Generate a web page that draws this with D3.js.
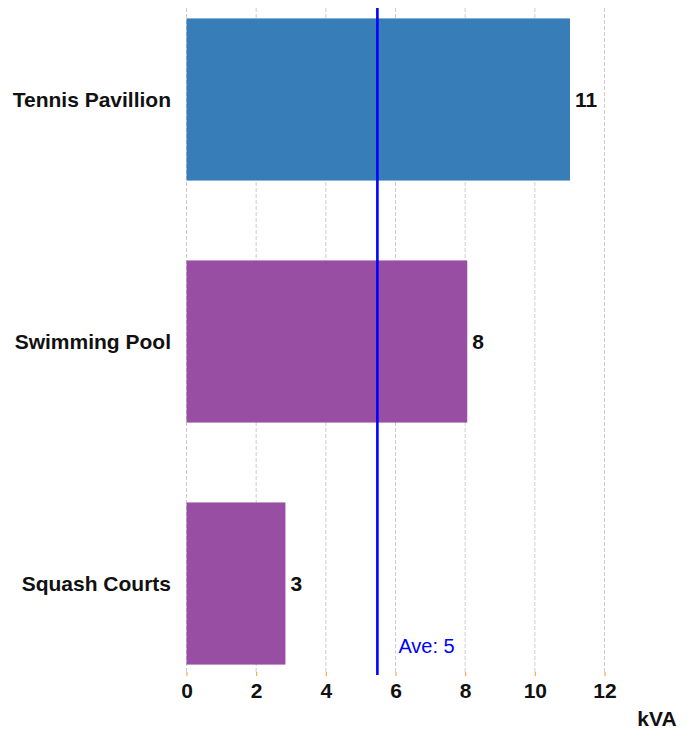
<!DOCTYPE html>
<html>
<head>
<meta charset="utf-8">
<script src="https://cdn.jsdelivr.net/npm/d3@7"></script>
<style>
  body { margin: 0; background: #fff; }
  svg text { font-family: Arial, "Liberation Sans", sans-serif; }
</style>
</head>
<body>
<svg width="693" height="730"></svg>
<script>
// data
var categories = ["Tennis Pavillion", "Swimming Pool", "Squash Courts"];
var values = [11.01, 8.06, 2.84];
var labels = ["11", "8", "3"];
var colors = ["#377eb8", "#984ea3", "#984ea3"];
var average = 5.48;
var aveLabel = "Ave: 5";
var xTicks = [0, 2, 4, 6, 8, 10, 12];
var unit = "kVA";

var rows = categories.map(function(c, i) {
  return {name: c, value: values[i], label: labels[i], color: colors[i]};
});

var svg = d3.select("svg");

var x = d3.scaleLinear().domain([0, 12]).range([186.5, 604.5]);
var y = d3.scaleBand().domain(categories).range([8, 675])
  .paddingInner(0.33).paddingOuter(0.043);

// grid
svg.append("g").selectAll("line.grid")
  .data(xTicks)
  .enter()
  .append("line").attr("class", "grid")
  .attr("x1", function(d){ return x(d); })
  .attr("x2", function(d){ return x(d); })
  .attr("y1", 8)
  .attr("y2", 672)
  .attr("stroke", "#cccccc")
  .attr("stroke-width", 1)
  .attr("stroke-dasharray", "4,2");

// bars
svg.append("g").selectAll("rect")
  .data(rows)
  .enter()
  .append("rect")
  .attr("x", x(0))
  .attr("y", function(d){ return y(d.name); })
  .attr("width", function(d){ return x(d.value) - x(0); })
  .attr("height", y.bandwidth())
  .attr("fill", function(d){ return d.color; });

// value labels
svg.append("g").selectAll("text")
  .data(rows)
  .enter()
  .append("text")
  .attr("x", function(d){ return x(d.value) + 5; })
  .attr("y", function(d){ return y(d.name) + y.bandwidth() / 2; })
  .attr("dy", "0.35em")
  .attr("font-size", "21px")
  .attr("font-weight", "bold")
  .attr("fill", "#111")
  .text(function(d){ return d.label; });

// category labels
svg.append("g").selectAll("text")
  .data(rows)
  .enter()
  .append("text")
  .attr("x", 171)
  .attr("y", function(d){ return y(d.name) + y.bandwidth() / 2; })
  .attr("dy", "0.35em")
  .attr("text-anchor", "end")
  .attr("font-size", "21px")
  .attr("font-weight", "bold")
  .attr("fill", "#111")
  .text(function(d){ return d.name; });

// x axis
var xAxis = svg.append("g")
  .attr("transform", "translate(0,672)")
  .call(d3.axisBottom(x).tickValues(xTicks).tickSize(4).tickPadding(7));
xAxis.select(".domain").remove();
xAxis.selectAll(".tick line").attr("stroke", "#ff9933");
xAxis.selectAll(".tick text")
  .attr("font-family", "Arial, 'Liberation Sans', sans-serif")
  .attr("font-size", "21px")
  .attr("font-weight", "bold")
  .attr("fill", "#111");

svg.append("text")
  .attr("x", 657)
  .attr("y", 726)
  .attr("text-anchor", "middle")
  .attr("font-size", "21px")
  .attr("font-weight", "bold")
  .attr("fill", "#111")
  .text(unit);

// average line
svg.append("line")
  .attr("x1", x(average))
  .attr("x2", x(average))
  .attr("y1", 8)
  .attr("y2", 675)
  .attr("stroke", "#0000ff")
  .attr("stroke-width", 2.6);

svg.append("text")
  .attr("x", x(average) + 21)
  .attr("y", 653)
  .attr("font-family", "'Open Sans', sans-serif")
  .attr("font-size", "20px")
  .attr("fill", "#0000ff")
  .text(aveLabel);
</script>
</body>
</html>
